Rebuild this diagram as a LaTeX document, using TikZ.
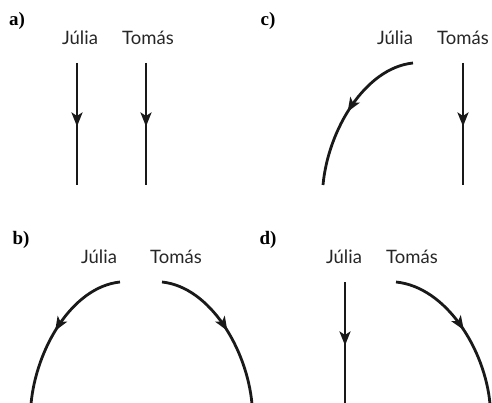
\documentclass[tikz,border=0pt]{standalone}
\usepackage{fontspec}
\setmainfont{Lato}
\newfontfamily\panelfont{Liberation Serif}
\usetikzlibrary{arrows.meta,decorations.markings}

\begin{document}
\begin{tikzpicture}[x=1pt,y=-1pt]

    \tikzset{
      personname/.style={
        anchor=base,
        inner sep=0pt,
        font=\fontsize{18.5}{18.5}\selectfont,
        text=black!85,
      },
      panel/.style={
        inner sep=0pt,
        font=\panelfont\bfseries\fontsize{19}{19}\selectfont,
      },
      walk/.style={
        line width=2.8pt,
        color=black!90,
        postaction={decorate},
        decoration={markings,
          mark=at position #1 with {\arrow{Stealth[length=14pt,width=11pt,inset=3.5pt]}}},
      },
      walk/.default=0.52,
    }

	\useasboundingbox (0,0) rectangle (492,403);

	% a) both go straight
	\node[panel] (la) at (17,21) {a)};
	\node[personname] (ja) at (80,45) {Júlia};
	\node[personname] (ta) at (148,45) {Tomás};
	\coordinate (ja1) at (77,63);  \coordinate (ja2) at (77,185);
	\coordinate (ta1) at (146,63); \coordinate (ta2) at (146,185);
	\draw[walk] (ja1)--(ja2);
	\draw[walk] (ta1)--(ta2);

	% c) Julia turns left
	\node[panel] (lc) at (268,21) {c)};
	\node[personname] (jc) at (395,45) {Júlia};
	\node[personname] (tc) at (463,45) {Tomás};
	\coordinate (jc1) at (413,63); \coordinate (jc2) at (323,185);
	\coordinate (tc1) at (463,63); \coordinate (tc2) at (463,185);
	\draw[walk] (jc1) .. controls +(-48,5) and +(5,-55) .. (jc2);
	\draw[walk] (tc1)--(tc2);

	% b) both turn away
	\node[panel] (lb) at (21,240) {b)};
	\node[personname] (jb) at (99,263) {Júlia};
	\node[personname] (tb) at (176,263) {Tomás};
	\coordinate (jb1) at (120,282); \coordinate (jb2) at (31,404);
	\coordinate (tb1) at (162,282); \coordinate (tb2) at (252,404);
	\draw[walk] (jb1) .. controls +(-48,5) and +(5,-55) .. (jb2);
	\draw[walk] (tb1) .. controls +(48,5) and +(-5,-55) .. (tb2);

	% d) Tomas turns right
	\node[panel] (ld) at (268,240) {d)};
	\node[personname] (jd) at (344,263) {Júlia};
	\node[personname] (td) at (412,263) {Tomás};
	\coordinate (jd1) at (345,282); \coordinate (jd2) at (345,404);
	\coordinate (td1) at (396,282); \coordinate (td2) at (490,404);
	\draw[walk] (jd1)--(jd2);
	\draw[walk] (td1) .. controls +(50,5) and +(-5,-55) .. (td2);

\end{tikzpicture}
\end{document}
